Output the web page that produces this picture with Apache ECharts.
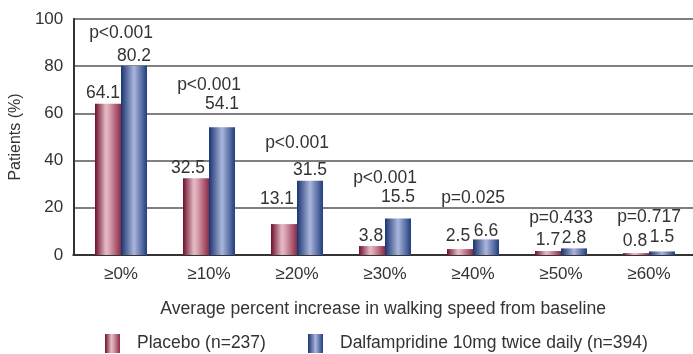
<!DOCTYPE html>
<html><head><meta charset="utf-8">
<script src="https://cdn.jsdelivr.net/npm/echarts@6/dist/echarts.min.js"></script>
<style>html,body{margin:0;padding:0;background:#fff}#c{width:693px;height:354px}</style>
</head><body><div id="c"></div>
<script>
var categories = ['≥0%', '≥10%', '≥20%', '≥30%', '≥40%', '≥50%', '≥60%'];
var placebo = [64.1, 32.5, 13.1, 3.8, 2.5, 1.7, 0.8];
var dalfampridine = [80.2, 54.1, 31.5, 15.5, 6.6, 2.8, 1.5];
var pValues = ['p<0.001', 'p<0.001', 'p<0.001', 'p<0.001', 'p=0.025', 'p=0.433', 'p=0.717'];
var yTicks = [0, 20, 40, 60, 80, 100];
var seriesNames = ['Placebo (n=237)', 'Dalfampridine 10mg twice daily (n=394)'];

// label layout tweaks (pixels)
var placeboShift = [-5, -8, -7, -1, -2, 0, -1];
var placeboLift = [1, 0, 15, 0, 3, 1, 2];
var dalfLift = [0, 13, 0, 11, -2, 0, 4];
var pLift = [33, 42, 37, 40, 41, 30, 34];

var FONT = 'Liberation Sans';
var TXT = '#333';
var redGrad = new echarts.graphic.LinearGradient(0, 0, 1, 0, [
  {offset: 0, color: '#6d0f2d'}, {offset: 0.42, color: '#e6bcc5'}, {offset: 0.55, color: '#d9a3b0'}, {offset: 1, color: '#8d2a47'}]);
var blueGrad = new echarts.graphic.LinearGradient(0, 0, 1, 0, [
  {offset: 0, color: '#1b3470'}, {offset: 0.5, color: '#aab6dc'}, {offset: 1, color: '#213d7e'}]);

function labelData(vals, lifts, shifts) {
  return vals.map(function (v, i) {
    return {value: v, label: {offset: [shifts ? shifts[i] : 0, -lifts[i]]}};
  });
}
var pairMax = placebo.map(function (v, i) { return Math.max(v, dalfampridine[i]); });

var chart = echarts.init(document.getElementById('c'), null, {renderer: 'canvas'});
chart.setOption({
  animation: false,
  textStyle: {fontFamily: FONT},
  grid: [
    {left: 77, right: 0, top: 19, bottom: 99},
    {left: 67, right: 0, top: 19, bottom: 99}
  ],
  legend: [
    {data: [seriesNames[0]], left: 105, top: 334, padding: 0, itemWidth: 15, itemHeight: 19, icon: 'rect',
     textStyle: {fontFamily: FONT, fontSize: 17.5, color: TXT, padding: [0, 0, 0, 12]}},
    {data: [seriesNames[1]], left: 308, top: 334, padding: 0, itemWidth: 15, itemHeight: 19, icon: 'rect',
     textStyle: {fontFamily: FONT, fontSize: 17.5, color: TXT, padding: [0, 0, 0, 12]}}
  ],
  xAxis: [
    {type: 'category', gridIndex: 0, data: categories,
     axisLine: {show: false}, axisTick: {show: false},
     axisLabel: {fontFamily: FONT, fontSize: 17, color: TXT, margin: 11}},
    {type: 'value', gridIndex: 1, min: 0, max: 1,
     axisLine: {show: true, onZero: false, lineStyle: {color: '#333', width: 2}},
     axisTick: {show: false}, axisLabel: {show: false}, splitLine: {show: false},
     name: 'Average percent increase in walking speed from baseline', nameLocation: 'middle',
     nameGap: 45, nameTextStyle: {fontFamily: FONT, fontSize: 17.6, color: TXT}}
  ],
  yAxis: [
    {type: 'value', gridIndex: 0, min: 0, max: 100, interval: 20, show: false},
    {type: 'value', gridIndex: 1, min: 0, max: 100, interval: 20,
     axisLine: {show: true, lineStyle: {color: '#333', width: 2}},
     axisTick: {show: false},
     axisLabel: {fontFamily: FONT, fontSize: 17, color: TXT, margin: 10,
       formatter: function (v) { return yTicks.indexOf(v) >= 0 ? String(v) : ''; }},
     splitLine: {show: true, lineStyle: {color: '#808080', width: 2}},
     name: 'Patients (%)', nameLocation: 'middle', nameGap: 31, nameRotate: 90,
     nameTextStyle: {fontFamily: FONT, fontSize: 16, color: TXT}}
  ],
  series: [
    {name: seriesNames[0], type: 'bar', xAxisIndex: 0, yAxisIndex: 0, barWidth: 26, barGap: '0%',
     data: labelData(placebo, placeboLift, placeboShift), itemStyle: {color: redGrad},
     label: {show: true, position: 'top', distance: 1, fontFamily: FONT, fontSize: 17.5, color: TXT}},
    {name: seriesNames[1], type: 'bar', xAxisIndex: 0, yAxisIndex: 0, barWidth: 26, barGap: '0%',
     data: labelData(dalfampridine, dalfLift), itemStyle: {color: blueGrad},
     label: {show: true, position: 'top', distance: 1, fontFamily: FONT, fontSize: 17.5, color: TXT}},
    {name: 'p', type: 'scatter', xAxisIndex: 0, yAxisIndex: 0, symbolSize: 0, silent: true,
     itemStyle: {color: '#ffffff', opacity: 1},
     data: pairMax.map(function (v, i) {
       return {value: v, label: {offset: [0, -pLift[i]], formatter: pValues[i], color: TXT}};
     }),
     label: {show: true, position: 'inside', fontFamily: FONT, fontSize: 17.5, color: TXT}}
  ]
});
</script></body></html>
